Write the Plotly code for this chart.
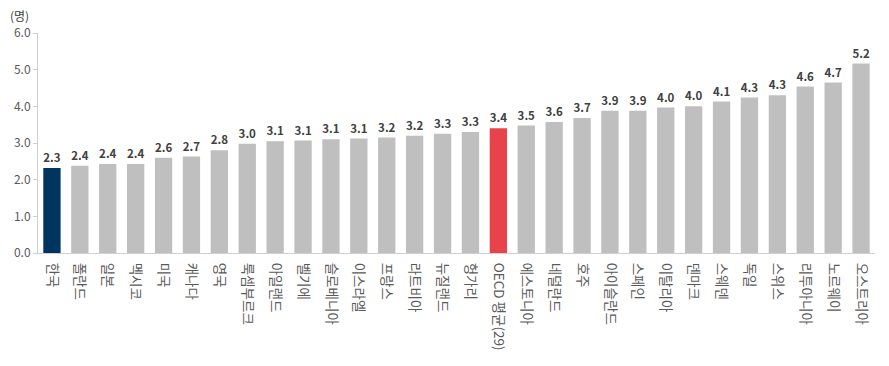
import plotly.graph_objects as go

countries = ["한국", "폴란드", "일본", "멕시코", "미국", "캐나다", "영국", "룩셈부르크", "아일랜드", "벨기에",
             "슬로베니아", "이스라엘", "프랑스", "라트비아", "뉴질랜드", "헝가리", "OECD 평균(29)", "에스토니아",
             "네덜란드", "호주", "아이슬란드", "스페인", "이탈리아", "덴마크", "스웨덴", "독일", "스위스",
             "리투아니아", "노르웨이", "오스트리아"]
heights = [2.32, 2.38, 2.43, 2.43, 2.60, 2.63, 2.80, 2.98, 3.05, 3.07,
           3.10, 3.12, 3.15, 3.20, 3.25, 3.30, 3.40, 3.48, 3.57, 3.68,
           3.88, 3.88, 3.97, 4.00, 4.13, 4.24, 4.30, 4.54, 4.65, 5.17]
shown = [2.3, 2.4, 2.4, 2.4, 2.6, 2.7, 2.8, 3.0, 3.1, 3.1,
         3.1, 3.1, 3.2, 3.2, 3.3, 3.3, 3.4, 3.5, 3.6, 3.7,
         3.9, 3.9, 4.0, 4.0, 4.1, 4.3, 4.3, 4.6, 4.7, 5.2]
y_ticks = [0, 1, 2, 3, 4, 5, 6]

colors = []
for c in countries:
    if c == "한국":
        colors.append("#00355F")
    elif c.startswith("OECD"):
        colors.append("#E8424B")
    else:
        colors.append("#BFBFBF")

fig = go.Figure(go.Bar(
    x=countries, y=heights,
    marker=dict(color=colors, line=dict(width=0)),
    text=[f"{v:.1f}" for v in shown],
    textposition="outside",
    textfont=dict(family="Noto Sans CJK KR, Noto Sans", size=12, color="#404040", weight="bold"),
    cliponaxis=False,
))

fig.update_layout(
    width=881, height=358,
    margin=dict(l=30, r=14, t=25, b=113, autoexpand=False),
    paper_bgcolor="white", plot_bgcolor="white",
    bargap=0.38,
    showlegend=False,
    font=dict(family="Noto Sans CJK KR, Noto Sans", color="#595959"),
    xaxis=dict(
        tickangle=90, tickfont=dict(size=13.5, color="#595959"),
        ticklabelstandoff=6,
        showline=True, linecolor="#D0D0D0", linewidth=1,
        ticks="", showgrid=False, automargin=False,
    ),
    yaxis=dict(
        range=[0, 6], tickvals=y_ticks, ticktext=[f"{v:.1f}" for v in y_ticks],
        tickfont=dict(size=12, color="#595959"),
        showline=True, linecolor="#D0D0D0", linewidth=1,
        ticks="outside", ticklen=4, tickcolor="#D0D0D0",
        showgrid=False, zeroline=False, automargin=False,
    ),
    annotations=[dict(
        text="(명)", xref="paper", yref="paper", x=-0.036, y=1.08,
        xanchor="left", yanchor="middle", showarrow=False,
        font=dict(size=12, color="#404040"),
    )],
)

fig.write_html("out.html")
